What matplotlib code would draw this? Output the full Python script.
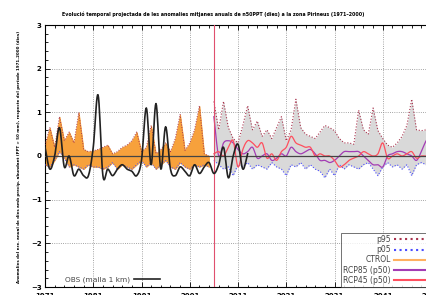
import numpy as np
import matplotlib
matplotlib.use("Agg")
import matplotlib.pyplot as plt
from matplotlib.lines import Line2D
from matplotlib.ticker import MultipleLocator

# control period 1971-2005
ctrl_years = list(range(1971, 2006))
ctrl_p95 = [0.25, 0.65, 0.2, 0.9, 0.35, 0.55, 0.3, 1.0, 0.15, 0.1,
            0.12, 0.15, 0.2, 0.25, 0.05, 0.1, 0.2, 0.25, 0.35, 0.55,
            0.1, 0.2, 0.7, 0.05, 0.15, 0.3, 0.1, 0.4, 0.95, 0.13,
            0.3, 0.6, 1.15, 0.05, 0.0]
ctrl_p05 = [-0.2, -0.25, -0.1, 0.1, -0.05, -0.25, -0.2, -0.25, -0.3, -0.2,
            -0.25, -0.25, -0.3, -0.25, -0.15, -0.3, -0.2, -0.25, -0.3, -0.2,
            -0.1, -0.25, -0.15, -0.3, -0.2, -0.1, -0.25, -0.3, -0.15, -0.25,
            -0.3, -0.2, -0.25, -0.2, -0.25]

# projections 2006-2051
fut_years = list(range(2006, 2052))
fut_p95 = [1.25, 0.6, 1.25, 0.65, 0.4, 0.3, 0.7, 1.15, 0.6, 0.8,
           0.45, 0.6, 0.4, 0.65, 0.9, 0.35, 0.6, 1.3, 0.65, 0.5,
           0.45, 0.4, 0.55, 0.7, 0.65, 0.58, 0.4, 0.3, 0.3, 0.27,
           1.05, 0.6, 0.5, 1.1, 0.58, 0.4, 0.25, 0.2, 0.3, 0.45,
           0.7, 1.3, 0.6, 0.58, 0.6, 1.1]
fut_p05 = [-0.1, -0.2, -0.3, -0.25, -0.45, -0.2, -0.25, -0.15, -0.3, -0.2,
           -0.25, -0.3, -0.15, -0.25, -0.3, -0.45, -0.2, -0.25, -0.15, -0.3,
           -0.2, -0.3, -0.35, -0.5, -0.3, -0.45, -0.2, -0.3, -0.2, -0.25,
           -0.3, -0.2, -0.15, -0.3, -0.45, -0.25, -0.15, -0.25, -0.2, -0.3,
           -0.2, -0.45, -0.2, -0.15, -0.2, -0.3]
rcp85 = [0.9, 0.0, 0.3, 0.35, 0.3, 0.15, 0.05, 0.1, 0.2, -0.05,
         0.0, 0.05, -0.1, -0.05, 0.05, 0.0, 0.2, 0.1, 0.05, 0.1,
         0.15, 0.05, -0.1, -0.1, -0.15, -0.1, 0.0, 0.1, 0.1, 0.1,
         0.1, 0.0, -0.1, -0.2, -0.2, -0.25, 0.0, 0.05, 0.1, 0.1,
         0.05, 0.0, -0.1, 0.1, 0.35, 0.45]
rcp45 = [0.05, 0.1, 0.0, 0.2, 0.35, -0.25, 0.15, 0.35, 0.3, 0.2,
         0.3, -0.05, 0.05, -0.1, 0.1, 0.2, 0.45, 0.3, 0.25, 0.2,
         0.2, 0.0, 0.05, 0.0, 0.0, -0.1, -0.25, -0.2, -0.1, -0.05,
         0.0, 0.1, 0.05, 0.0, 0.05, 0.3, -0.05, 0.0, 0.05, 0.0,
         0.05, 0.1, -0.05, 0.0, 0.0, 0.05]

# observations
obs_years = list(range(1971, 2014))
obs = [0.2, -0.3, 0.0, 0.65, -0.25, 0.0, -0.45, -0.3, -0.45, -0.45,
       0.2, 1.4, -0.45, -0.3, -0.45, -0.3, -0.2, -0.3, -0.35, -0.45,
       -0.1, 1.1, -0.2, 1.2, -0.3, 0.67, -0.3, -0.45, -0.25, -0.35,
       -0.45, -0.2, -0.4, -0.25, -0.15, -0.4, -0.2, 0.2, -0.5, 0.0,
       0.27, -0.3, 0.05]

x_ticks = list(range(1971, 2052, 10))


def smooth(x, y, n=10):
    # Catmull-Rom curve through the points, only for drawing
    x = np.asarray(x, float)
    y = np.asarray(y, float)
    yp = np.concatenate([[2 * y[0] - y[1]], y, [2 * y[-1] - y[-2]]])
    t = np.linspace(0, 1, n, endpoint=False)
    xs, ys = [], []
    for i in range(len(x) - 1):
        p0, p1, p2, p3 = yp[i], yp[i + 1], yp[i + 2], yp[i + 3]
        seg = 0.5 * (2 * p1 + (-p0 + p2) * t + (2 * p0 - 5 * p1 + 4 * p2 - p3) * t ** 2
                     + (-p0 + 3 * p1 - 3 * p2 + p3) * t ** 3)
        xs.append(x[i] + (x[i + 1] - x[i]) * t)
        ys.append(seg)
    xs.append([x[-1]])
    ys.append([y[-1]])
    return np.concatenate(xs), np.concatenate(ys)


c_p95 = "#a8344e"
c_p05 = "#4a4cff"
c_ctrl = "#f7a13c"
c_85 = "#a43cb4"
c_45 = "#ff4f5e"

fig = plt.figure(figsize=(4.27, 2.95), dpi=100)
ax = fig.add_axes([45 / 427, 8 / 295, 386 / 427, 262 / 295])

ax.fill_between(ctrl_years, ctrl_p05, ctrl_p95, color=c_ctrl, lw=0.5, edgecolor="#f39a30", zorder=2)
ax.fill_between(fut_years, fut_p05, fut_p95, color="#d9d9d9", lw=0, zorder=2)

ax.plot(ctrl_years, ctrl_p95, color=c_p95, ls=":", lw=0.7, zorder=3)
ax.plot(ctrl_years, ctrl_p05, color=c_p05, ls=":", lw=0.7, zorder=3)
ax.plot(fut_years, fut_p95, color=c_p95, ls=":", lw=0.8, zorder=3)
ax.plot(fut_years, fut_p05, color=c_p05, ls=":", lw=0.8, zorder=3)

xs, ys = smooth(fut_years, rcp85)
ax.plot(xs, ys, color=c_85, lw=0.9, zorder=4)
xs, ys = smooth(fut_years, rcp45)
ax.plot(xs, ys, color=c_45, lw=0.9, zorder=4)
xs, ys = smooth(obs_years, obs)
ax.plot(xs, ys, color="#222222", lw=1.2, zorder=5)

ax.axhline(0, color="#444444", lw=0.9, zorder=4)
ax.axvline(2006, color="#e0506e", lw=0.8, zorder=4)

ax.set_xlim(1971, 2051)
ax.set_ylim(-3, 3)
ax.set_xticks(x_ticks)
ax.set_xticks(list(range(1971, 2052, 2)), minor=True)
ax.yaxis.set_major_locator(MultipleLocator(1))
ax.yaxis.set_minor_locator(MultipleLocator(0.2))
ax.grid(True, which="major", color="#888888", ls=":", lw=0.6, zorder=1)
ax.tick_params(which="both", direction="in", top=True, right=True, width=0.6)
ax.tick_params(which="major", length=3.5, labelsize=5, pad=2.5)
ax.tick_params(axis="x", which="major", pad=4.5)
ax.tick_params(which="minor", length=1.8)
for lab in ax.get_xticklabels() + ax.get_yticklabels():
    lab.set_fontweight("bold")
for s in ax.spines.values():
    s.set_linewidth(0.8)

h_main = [Line2D([], [], color=c_p95, ls=":", lw=1.5),
          Line2D([], [], color=c_p05, ls=":", lw=1.5),
          Line2D([], [], color="#ffb060", lw=1.5),
          Line2D([], [], color=c_85, lw=1.5),
          Line2D([], [], color=c_45, lw=1.5)]
labels_main = ["p95", "p05", "CTROL", "RCP85 (p50)", "RCP45 (p50)"]
leg = ax.legend(h_main, labels_main, loc="lower right", markerfirst=False, fontsize=5.5,
                frameon=True, fancybox=False, edgecolor="#333333", borderaxespad=0,
                handlelength=4.5, labelspacing=0.15, borderpad=0.3, handletextpad=0.5)
leg.get_frame().set_linewidth(0.6)
for t in leg.get_texts():
    t.set_color("#444444")
ax.add_artist(leg)

leg2 = ax.legend([Line2D([], [], color="#222222", lw=1.2)], ["OBS (malla 1 km)"], loc="lower left",
                 bbox_to_anchor=(0.04, 0.0), markerfirst=False, fontsize=5.3, frameon=False,
                 handlelength=3.5, handletextpad=0.6, borderaxespad=0.2)
for t in leg2.get_texts():
    t.set_color("#444444")

fig.text(0.5, 1 - 14 / 295, "Evolució temporal projectada de les anomalies mitjanes anuals de n50PPT (dies) a la zona Pirineus (1971–2000)",
         ha="center", va="center", fontsize=3.4, fontweight="bold")
fig.text(19 / 427, 1 - 157 / 295,
         "Anomalies del nre. anual de dies amb precip. abundant (PPT > 50 mm), respecte del període 1971–2000 (dies)",
         rotation=90, ha="center", va="center", fontsize=2.9, fontweight="bold")

fig.savefig("out.png", dpi=100)
